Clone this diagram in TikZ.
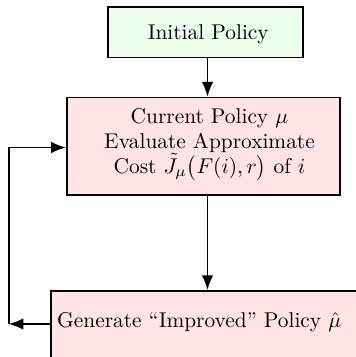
\RequirePackage{fix-cm}
\documentclass[tikz,border=0pt]{standalone}
\usetikzlibrary{arrows.meta}
\begin{document}
\begin{tikzpicture}[x=0.4773pt,y=-0.4773pt,
  box/.style={draw=black,line width=0.8pt,inner sep=0pt},
  greenbox/.style={box,fill={rgb,255:red,236;green,255;blue,236}},
  pinkbox/.style={box,fill={rgb,255:red,255;green,228;blue,230}},
  txt/.style={inner sep=0pt,align=center,font=\fontsize{10.2pt}{12pt}\selectfont},
  arr/.style={line width=0.8pt,-{Latex[length=7pt,width=5.5pt]}}]
\useasboundingbox (0,0) rectangle (356,357);
\clip (0,0) rectangle (356,357);
% boxes
\node[greenbox,minimum width=92.8pt,minimum height=24.3pt] (init) at (205.5,32.2) {};
\node[pinkbox,minimum width=130.4pt,minimum height=46.4pt] (cur) at (203.3,146.1) {};
\node[pinkbox,anchor=north west,minimum width=155pt,minimum height=45pt] (bot) at (50,290) {};
% texts
\node[txt,anchor=base] (inittxt) at (208.3,39.3) {Initial Policy};
\node[txt,anchor=base] (curtxt) at (209.5,173.3)
  {Current Policy $\mu$\\Evaluate Approximate\\Cost $\tilde J_\mu\bigl(F(i),r\bigr)$ of $i$};
\node[txt,anchor=base west] (bottxt) at (56.7,327.5) {Generate ``Improved'' Policy $\hat\mu$};
% connectors
\coordinate (ax) at (207.5,0);
\coordinate (cl) at (8.7,324);
\coordinate (ct) at (8.7,147.5);
\draw[arr] (init.south -| ax) -- (cur.north -| ax);
\draw[arr] (cur.south -| ax) -- (bot.north -| ax);
\draw[arr] (bot.west |- cl) -- (cl);
\draw[arr] (cl) -- (ct) -- (cur.west |- ct);
\end{tikzpicture}
\end{document}
